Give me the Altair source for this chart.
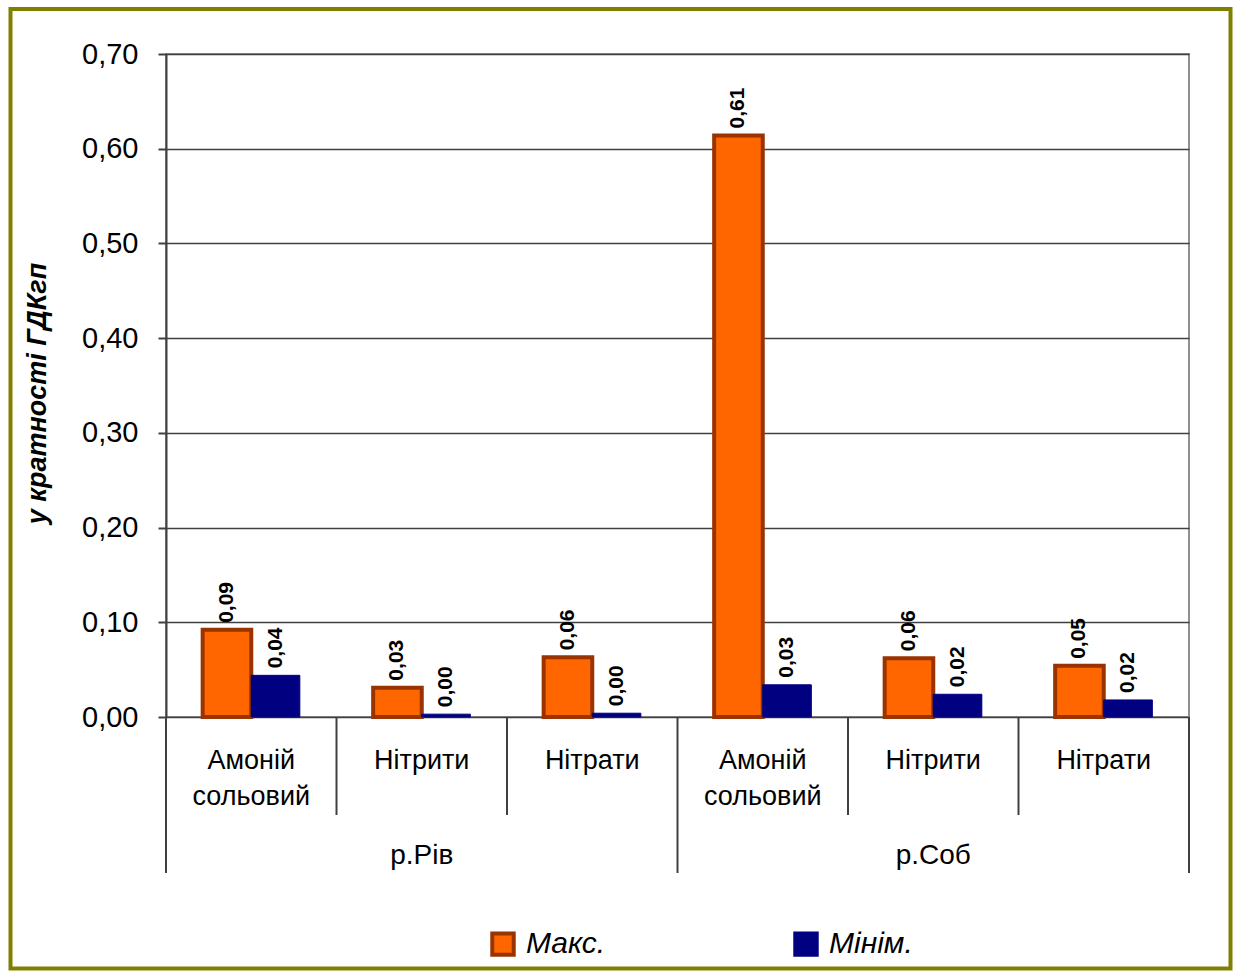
import altair as alt
import pandas as pd

# ---- data ----
rivers = ["р.Рів", "р.Рів", "р.Рів", "р.Соб", "р.Соб", "р.Соб"]
substances = ["Амоній\nсольовий", "Нітрити", "Нітрати", "Амоній\nсольовий", "Нітрити", "Нітрати"]
maks = [0.092, 0.031, 0.063, 0.614, 0.062, 0.054]
minim = [0.044, 0.003, 0.004, 0.034, 0.024, 0.018]
series_names = ["Макс.", "Мінім."]
y_ticks = [0.0, 0.1, 0.2, 0.3, 0.4, 0.5, 0.6, 0.7]

FONT = "Liberation Sans"
W, H = 1023, 663
N = len(substances)

rows = []
for i in range(N):
    rows.append({"idx": i, "river": rivers[i], "sub": substances[i], "series": series_names[0], "value": maks[i]})
    rows.append({"idx": i, "river": rivers[i], "sub": substances[i], "series": series_names[1], "value": minim[i]})
df = pd.DataFrame(rows)

cats = pd.DataFrame({"idx": list(range(N)), "sub": substances})

# group centres & boundaries derived from the river list
groups = []
bounds_outer = [0]
start = 0
for i in range(1, N + 1):
    if i == N or rivers[i] != rivers[start]:
        groups.append({"river": rivers[start], "start": start, "end": i})
        bounds_outer.append(i)
        start = i
grp = pd.DataFrame(groups)
inner = pd.DataFrame({"b": [b for b in range(N + 1) if b not in bounds_outer]})
outer = pd.DataFrame({"b": bounds_outer})

xscale = alt.Scale(domain=[0, N], nice=False, zero=False)
yscale = alt.Scale(domain=[0, 0.7], nice=False)

y_axis = alt.Axis(
    values=y_ticks,
    labelExpr="replace(format(datum.value, '.2f'), '.', ',')",
    title="у кратності ГДКгп",
    titleFont=FONT, titleFontSize=27, titleFontWeight="bold", titleFontStyle="italic",
    titleColor="#000000", titleAngle=270, titleAlign="center", titleBaseline="middle",
    titleX=-129, titleY=339,
    labelFont=FONT, labelFontSize=29, labelColor="#000000", labelPadding=20,
    tickSize=8, tickColor="#404040", tickWidth=2,
    domainColor="#404040", domainWidth=2,
    grid=True, gridColor="#404040", gridWidth=1.6,
)
y_enc = alt.Y("value:Q", scale=yscale, axis=y_axis)

base = alt.Chart(df).transform_calculate(
    x0=f"datum.idx + 0.5 - (datum.series == '{series_names[0]}' ? 0.285 : 0)",
    x1=f"datum.idx + 0.5 + (datum.series == '{series_names[0]}' ? 0 : 0.285)",
    xm=f"datum.idx + 0.5 + (datum.series == '{series_names[0]}' ? -0.1425 : 0.1425)",
    label="replace(format(datum.value, '.2f'), '.', ',')",
)

legend = alt.Legend(
    title=None, orient="none", legendX=322, legendY=875, direction="horizontal",
    symbolType="square", symbolSize=460, symbolStrokeWidth=4,
    labelFont=FONT, labelFontSize=30, labelFontStyle="italic", labelColor="#000000",
    labelOffset=8, columnPadding=181, labelLimit=300,
)

bars = base.mark_bar().encode(
    x=alt.X("x0:Q", scale=xscale, axis=None),
    x2="x1:Q",
    y=y_enc,
    y2=alt.datum(0),
    color=alt.Color("series:N", scale=alt.Scale(domain=series_names, range=["#FF6600", "#000080"]), legend=legend),
    stroke=alt.Stroke("series:N", scale=alt.Scale(domain=series_names, range=["#993300", "#000080"]), legend=legend),
    strokeWidth=alt.condition(f"datum.series == '{series_names[0]}'", alt.value(4), alt.value(1)),
)

labels = base.mark_text(
    angle=270, align="left", baseline="middle", dx=7,
    font=FONT, fontSize=21, fontWeight="bold", color="#000000",
).encode(
    x=alt.X("xm:Q", scale=xscale, axis=None),
    y=y_enc,
    text="label:N",
)

cat_text = alt.Chart(cats).transform_calculate(
    xc="datum.idx + 0.5"
).mark_text(
    baseline="top", align="center", lineBreak="\n", lineHeight=36,
    font=FONT, fontSize=27, color="#000000",
).encode(
    x=alt.X("xc:Q", scale=xscale, axis=None),
    y=alt.value(H + 31),
    text="sub:N",
)

grp_text = alt.Chart(grp).transform_calculate(
    xc="(datum.start + datum.end) / 2"
).mark_text(
    baseline="middle", align="center", font=FONT, fontSize=28, color="#000000",
).encode(
    x=alt.X("xc:Q", scale=xscale, axis=None),
    y=alt.value(H + 139),
    text="river:N",
)

inner_rules = alt.Chart(inner).mark_rule(color="#404040", strokeWidth=2).encode(
    x=alt.X("b:Q", scale=xscale, axis=None),
    y=alt.value(H),
    y2=alt.value(H + 98),
)
outer_rules = alt.Chart(outer).mark_rule(color="#404040", strokeWidth=2).encode(
    x=alt.X("b:Q", scale=xscale, axis=None),
    y=alt.value(H),
    y2=alt.value(H + 156),
)

frame = alt.Chart(pd.DataFrame({"k": [0]})).mark_rect(
    fill=None, stroke="#808000", strokeWidth=4
).encode(
    x=alt.value(-155.5), x2=alt.value(1064.5),
    y=alt.value(-45), y2=alt.value(914.5),
)

chart = alt.layer(
    frame, inner_rules, outer_rules, bars, labels, cat_text, grp_text
).properties(
    width=W, height=H,
    padding={"left": 8, "top": 7, "right": 0, "bottom": 0},
    background="#ffffff",
).configure_view(
    stroke="#909090", strokeWidth=2,
)

chart.save("out.html", embed_options={"renderer": "svg", "actions": False})
